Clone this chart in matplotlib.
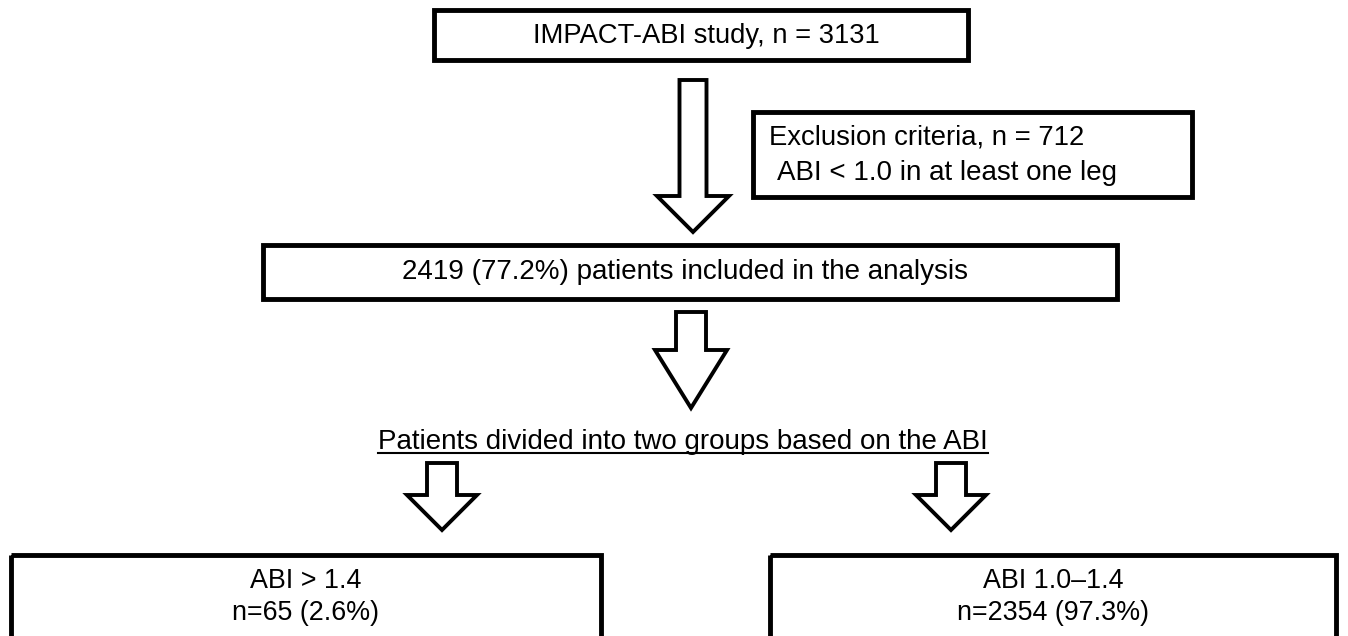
import matplotlib
matplotlib.use("Agg")
import matplotlib.pyplot as plt
from matplotlib.patches import Rectangle, Polygon

plt.rcParams['font.family'] = ['Liberation Sans', 'DejaVu Sans']

# flowchart content
study_n = 3131
excluded_n = 712
included_n = 2419
included_pct = 77.2
group_labels = ["ABI > 1.4", "ABI 1.0\u20131.4"]
group_n = [65, 2354]
group_pct = [2.6, 97.3]

W, H = 1348, 636
fig = plt.figure(figsize=(W / 100, H / 100), dpi=100)
ax = fig.add_axes([0, 0, 1, 1])
ax.set_xlim(0, W)
ax.set_ylim(H, 0)
ax.axis('off')


def box(x0, y0, x1, y1, lw=3.5):
    ax.add_patch(Rectangle((x0, y0), x1 - x0, y1 - y0, fill=False,
                           edgecolor='black', linewidth=lw))


def down_arrow(cx, y_top, y_neck, y_tip, shaft_w, head_w, lw=2.8):
    pts = [(cx - shaft_w / 2, y_top), (cx + shaft_w / 2, y_top),
           (cx + shaft_w / 2, y_neck), (cx + head_w / 2, y_neck),
           (cx, y_tip), (cx - head_w / 2, y_neck),
           (cx - shaft_w / 2, y_neck)]
    ax.add_patch(Polygon(pts, closed=True, facecolor='white',
                         edgecolor='black', linewidth=lw, joinstyle='miter'))


# top box
box(434, 10, 968, 60)
ax.text(706, 36, f"IMPACT-ABI study, n = {study_n}", ha='center', va='center',
        fontsize=19.7)

# first arrow and exclusion box
down_arrow(693, 80, 196, 232, 27, 72)
box(753, 112, 1192, 197)
ax.text(769, 138, f"Exclusion criteria, n = {excluded_n}", ha='left', va='center',
        fontsize=19.8)
ax.text(777, 173, "ABI < 1.0 in at least one leg", ha='left', va='center',
        fontsize=20)

# included box
box(263, 245, 1117, 299)
ax.text(685, 272, f"{included_n} ({included_pct}%) patients included in the analysis",
        ha='center', va='center', fontsize=20)

# second arrow
down_arrow(691, 312, 350, 408, 30, 72)

# divider text
ax.text(683, 449, "Patients divided into two groups based on the ABI",
        ha='center', va='baseline', fontsize=20)
ax.plot([378, 988], [453, 453], color='black', linewidth=1.5)

# group arrows and boxes (bottom edge runs off the picture)
for cx in (442, 951):
    down_arrow(cx, 463, 495, 530, 30, 70)

box_x = [(11, 601), (770, 1336)]
for (x0, x1), lab, n, p in zip(box_x, group_labels, group_n, group_pct):
    box(x0, 555, x1, 640)
    ax.text((x0 + x1) / 2, 588, lab, ha='center', va='baseline', fontsize=19.4)
    ax.text((x0 + x1) / 2, 620, f"n={n} ({p}%)", ha='center', va='baseline',
            fontsize=19.4)

fig.savefig("out.png", dpi=100, facecolor='white')
